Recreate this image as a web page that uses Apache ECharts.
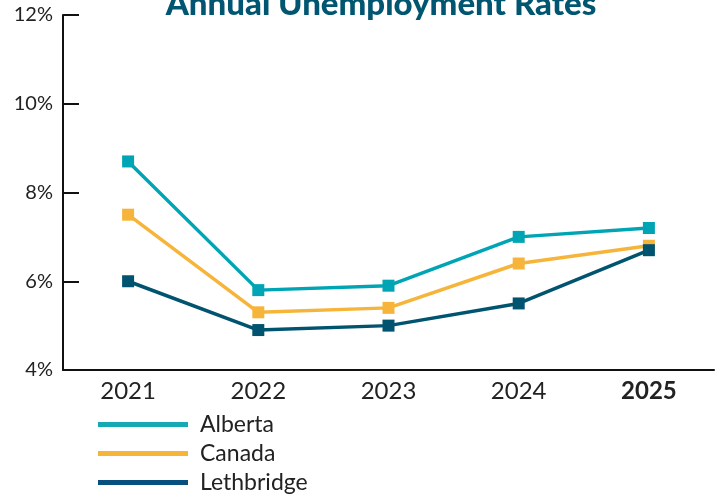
<!DOCTYPE html>
<html><head><meta charset="utf-8">
<script src="https://cdn.jsdelivr.net/npm/echarts@6/dist/echarts.min.js"></script>
<style>html,body{margin:0;padding:0;background:#fff}#c{width:724px;height:499px}</style>
</head><body><div id="c"></div>
<script>
var categories = ['2021','2022','2023','2024','2025'];
var alberta = [8.7, 5.8, 5.9, 7.0, 7.2];
var canada = [7.5, 5.3, 5.4, 6.4, 6.8];
var lethbridge = [6.0, 4.9, 5.0, 5.5, 6.7];
var yTicks = {min: 4, max: 12, interval: 2};

var chart = echarts.init(document.getElementById('c'));
var font = 'Lato';
function mk(name, data, color){
  return {name:name, type:'line', data:data, symbol:'rect', symbolSize:12,
    lineStyle:{width:3.5,color:color}, itemStyle:{color:color}, z: 2};
}
chart.setOption({
  animation:false,
  title:{text:'Annual Unemployment Rates', left:376, textAlign:'center', top:-17,
    textStyle:{fontFamily:font, fontSize:33, fontWeight:900, color:'#005670', lineHeight:33}},
  grid:{left:63, right:10, top:15, bottom:129},
  legend:{orient:'vertical', left:93, top:407, height:90, itemWidth:90, itemHeight:5, itemGap:4,
    icon:'rect', textStyle:{fontFamily:font, fontSize:23, lineHeight:25, color:'#222', padding:[0,0,0,7]},
    data:[{name:'Alberta', itemStyle:{color:'#17A8B6'}},
          {name:'Canada', itemStyle:{color:'#F6B53A'}},
          {name:'Lethbridge', itemStyle:{color:'#064F7E'}}]},
  xAxis:{type:'category', data:categories, boundaryGap:true,
    axisLine:{lineStyle:{color:'#111', width:2}},
    axisTick:{inside:true, length:10, lineStyle:{color:'#111', width:2}},
    axisLabel:{fontFamily:font, fontSize:24, color:'#222', margin:9,
      formatter:function(v){return v==='2025' ? '{b|'+v+'}' : v;},
      rich:{b:{fontFamily:font, fontSize:24, fontWeight:'bold', color:'#222'}}},
    splitLine:{show:false}},
  yAxis:{type:'value', min:yTicks.min, max:yTicks.max, interval:yTicks.interval,
    axisLine:{show:true, lineStyle:{color:'#111', width:2}},
    axisTick:{show:true, inside:true, length:16, lineStyle:{color:'#111', width:2}},
    axisLabel:{fontFamily:font, fontSize:20, color:'#222', margin:10, formatter:'{value}%',
      padding:[10,0,0,0]},
    splitLine:{show:false}},
  series:[mk('Alberta', alberta, '#00A5B5'), mk('Canada', canada, '#F6B53A'), mk('Lethbridge', lethbridge, '#00546F')]
});
</script></body></html>
